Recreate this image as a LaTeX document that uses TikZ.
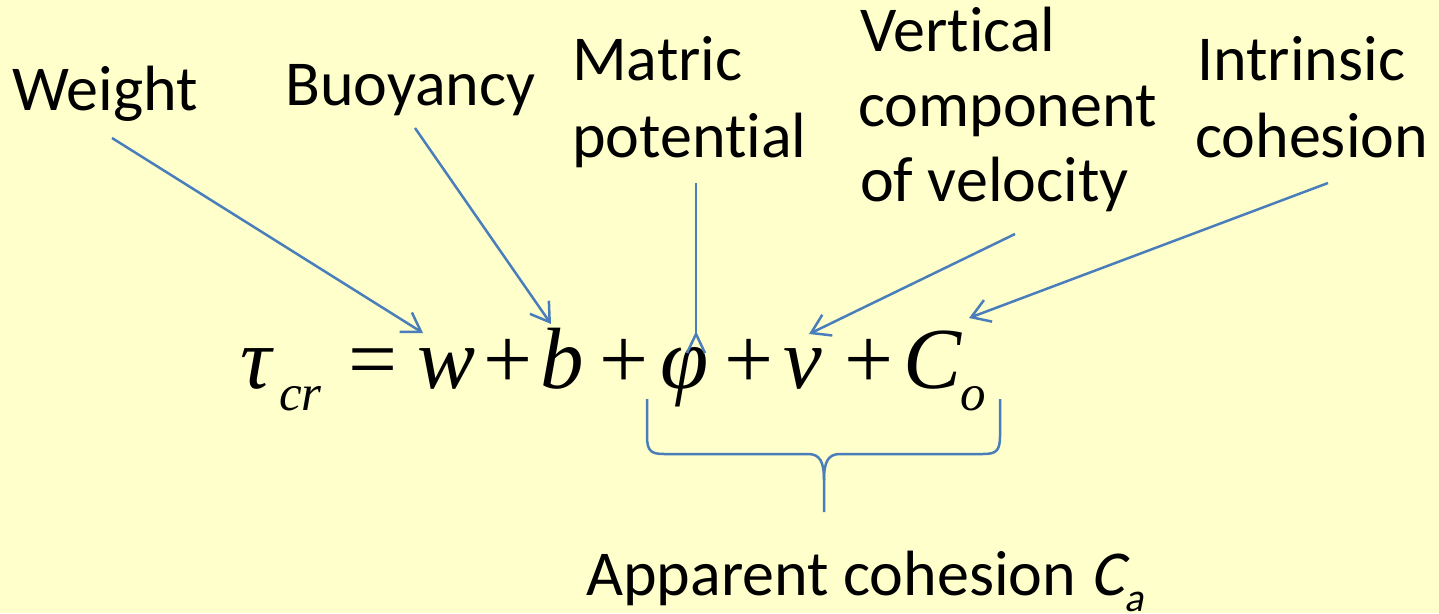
\documentclass[tikz,border=0pt]{standalone}
\usepackage{fontspec}
\setmainfont{Carlito}[RawFeature={-liga;-calt}]
\newfontfamily\eqfont{Liberation Serif}
\newfontfamily\calitalic{Carlito}[FakeSlant=0.2]
\usetikzlibrary{arrows.meta}
\definecolor{bgyellow}{HTML}{FFFFCC}
\definecolor{linkblue}{HTML}{4A7EBB}
\tikzset{
  lbl/.style={anchor=base west, inner sep=0pt, font=\fontsize{64}{76}\selectfont},
  eq/.style={anchor=base west, inner sep=0pt, font=\fontsize{87}{90}\selectfont\eqfont},
  eqsub/.style={anchor=base west, inner sep=0pt, font=\fontsize{51}{55}\selectfont\eqfont\itshape},
  link/.style={draw=linkblue, line width=2.5pt, -{Straight Barb[length=18pt,width=23pt,line width=2.5pt]}},
  plain/.style={draw=linkblue, line width=2.5pt},
}
\begin{document}
\begin{tikzpicture}[x=1pt,y=-1pt]
\fill[bgyellow] (0,0) rectangle (1439,613);
\useasboundingbox (0,0) rectangle (1439,613);

% labels
\node[lbl] (weight) at (12,110) {Weight};
\node[lbl] (buoy) at (285,105) {Buoyancy};
\node[lbl] (matric1) at (572,80) {Matric};
\node[lbl] (matric2) at (572,157) {potent\kern0pt ial};
\node[lbl] (vert1) at (860,51) {Vert\kern0pt ical};
\node[lbl] (vert2) at (858,126) {component};
\node[lbl] (vert3) at (860,201) {of velocity};
\node[lbl] (intr1) at (1197,80) {Intrinsic};
\node[lbl] (intr2) at (1195,157) {cohesion};
\node[lbl] (app) at (586,595) {Apparent cohesion {\calitalic C}\raisebox{-16pt}{\fontsize{40}{44}\selectfont\calitalic a}};

% equation
\node[eq] (tau) at (240,388) {\itshape τ};
\node[eqsub] (cr) at (279,410) {cr};
\node[eq] (eqsign) at (348,388) {=};
\node[eq] (w) at (417,388) {\itshape w};
\node[eq] (p1) at (483,388) {+};
\node[eq] (b) at (540,388) {\itshape b};
\node[eq] (p2) at (599,388) {+};
\node[eq] (phi) at (660,388) {\itshape φ};
\node[eq] (p3) at (724,388) {+};
\node[eq] (nu) at (783,388) {\itshape ν};
\node[eq] (p4) at (844,388) {+};
\node[eq] (C) at (903,388) {\itshape C};
\node[eqsub] (o) at (960,410) {o};

% connector end points
\coordinate (wS) at (112,138);
\coordinate (wE) at (423,333);
\coordinate (bS) at (415,128);
\coordinate (bE) at (551,324);
\coordinate (mS) at (696,183);
\coordinate (mE) at (696,334);
\coordinate (mL) at (687,353);
\coordinate (mR) at (705,353);
\coordinate (vS) at (1015,234);
\coordinate (vE) at (809,334);
\coordinate (iS) at (1328,183);
\coordinate (iE) at (969,318);

\draw[link] (wS) -- (wE);
\draw[link] (bS) -- (bE);
\draw[plain] (mS) -- (mE);
\draw[plain] (mL) -- (mE) -- (mR);
\draw[link] (vS) -- (vE);
\draw[link] (iS) -- (iE);

% brace
\coordinate (brL) at (647,399);
\coordinate (brR) at (1000,399);
\coordinate (brM) at (824,480);
\coordinate (brTip) at (824,512);
\draw[plain, line join=round] (brL) -- (647,436) .. controls (647,451) and (651,454) .. (664,454)
  -- (808,454) .. controls (820,454) and (824,462) .. (brM) -- (brTip);
\draw[plain, line join=round] (brR) -- (1000,436) .. controls (1000,451) and (996,454) .. (983,454)
  -- (840,454) .. controls (828,454) and (824,462) .. (brM);
\end{tikzpicture}
\end{document}
